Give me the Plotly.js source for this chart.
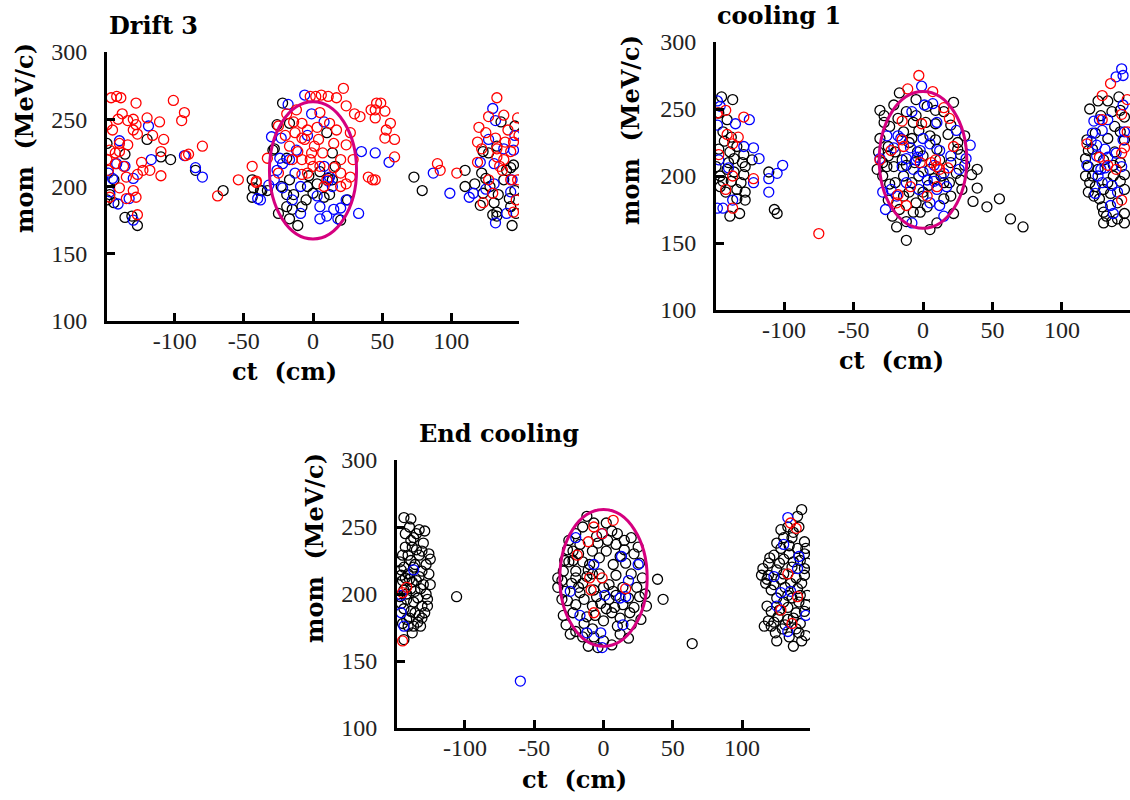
<!DOCTYPE html>
<html>
<head>
<meta charset="utf-8">
<script src="https://cdn.plot.ly/plotly-3.0.1.min.js"></script>
<style>
html,body{margin:0;padding:0;background:#fff;}
#chart{width:1130px;height:800px;}
</style>
</head>
<body>
<div id="chart"></div>
<script>
// ---------------- DATA ----------------
const panelTitles = ["Drift 3", "cooling 1", "End cooling"];
const xTickVals = [-100, -50, 0, 50, 100];
const xTickText = ["-100", "-50", "0", "50", "100"];
const yTickVals = [100, 150, 200, 250, 300];
const yTickText = ["100", "150", "200", "250", "300"];
const xTitle = "ct\u00a0\u00a0(cm)";
const yTitle = "mom\u00a0\u00a0(MeV/c)";
// reference ellipse (ct centre, mom centre, ct radius, mom radius)
const ellipseCt = 0, ellipseMom = 212, ellipseRCt = 31.5, ellipseRMom = 51;

// ---- Drift 3 ----
const d3RedCt = [
-146,-142,-139,-128,-101,-93,-95,-138,-141,-149,
-145,-134,-130,-128,-120,-111,-130,-127,-116,-108,
-140,-134,-147,-143,-140,-110,-92,-90,-80,-124,
-149,-143,-137,-118,-123,-110,-127,-135,-148,-140,
-130,-128,-135,-147,-69,-54,-127,-44,-41,-33,
22,6,2,-2,11,17,24,30,34,42,
45,46,-19,-12,-14,-8,-4,3,12,17,
27,24,4,-6,-13,-11,-8,-2,0,5,
-4,7,20,24,27,20,-41,40,45,1,
-17,-8,10,29,20,133,127,138,148,120,
141,149,119,132,139,133,143,119,133,135,
90,92,104,148,130,123,145,143,137,127,
147,49,45,52,56,53,52,59,59,43,
-25,-20,5,15,-15,8,-25,15,-8,-1,
125,145,138,122];
const d3RedMom = [
266,267,266,262,264,255,249,254,250,246,
242,249,250,246,251,248,242,239,238,235,
232,231,227,225,226,226,223,224,230,218,
220,217,215,212,212,208,209,207,212,199,
197,192,191,192,193,205,179,215,203,221,
273,268,267,267,267,266,260,254,252,257,
251,262,254,257,248,247,242,244,247,242,
240,231,235,235,240,226,220,220,215,215,
210,225,210,202,207,200,204,207,205,230,
230,209,205,220,220,266,252,253,251,244,
242,238,233,236,233,228,226,218,222,215,
217,212,210,205,195,188,181,205,212,205,
190,262,257,256,247,242,236,235,222,205,
245,238,255,232,220,200,210,214,236,225,
240,233,220,228];
const d3BlueCt = [
-119,-140,-117,-93,-85,-80,-148,-142,-136,-130,
-145,-147,-141,-133,-130,-40,-32,-6,-18,8,
-1,-30,-23,-4,35,45,-17,-22,-26,-13,
-9,12,11,14,-22,24,33,5,5,10,
15,20,-9,-24,-38,130,132,127,146,145,
121,131,87,99,113,116,144,140,132,143,
131,55,-12,3,-28,18,-15,8,138,125];
const d3BlueMom = [
245,234,220,223,214,207,210,217,215,206,
206,196,187,191,175,191,201,268,261,248,
254,237,236,238,226,225,220,217,212,210,
200,207,204,200,199,190,180,185,176,178,
183,184,180,221,190,258,249,235,238,227,
218,217,210,195,192,195,205,180,173,196,
202,218,227,193,205,176,190,215,228,198];
const d3BlackCt = [
-120,-110,-103,-85,-65,-149,-136,-144,-147,-144,
-136,-131,-127,-149,-44,-44,-37,-33,-22,-26,
-17,10,14,-19,-28,11,14,5,3,-4,
-17,-23,-19,-14,-19,-15,-17,-11,-43,-38,
12,20,-29,136,146,123,127,133,143,145,
140,110,122,110,117,128,121,123,134,142,
146,130,133,133,144,143,73,79,
-5,0,8,-25,-8,25,-3,16,138,131,125,147];
const d3BlackMom = [
235,222,220,212,197,232,224,205,194,188,
177,178,171,190,205,192,197,197,262,246,
247,240,225,221,228,206,205,211,202,200,
205,200,194,194,185,183,176,171,199,197,
194,175,227,248,245,226,225,230,214,216,
212,212,210,200,202,200,186,195,194,191,
197,179,181,178,171,185,207,197,
190,195,192,180,185,190,208,215,205,188,206,180];

// ---- cooling 1 ----
const c1RedCt = [
-148,-142,-129,-141,-133,-137,-147,-122,-137,-142,
-137,-75,-3,-11,7,19,15,-15,-1,-23,
-15,6,10,9,12,18,22,-2,-9,-18,
-19,-12,3,10,-14,-31,135,129,147,143,
129,147,118,143,127,133,139,143,145];
const c1RedMom = [
247,249,244,231,229,224,216,198,200,190,
176,157,275,265,263,243,251,241,239,219,
227,210,207,212,205,206,222,210,192,186,
180,178,185,192,222,212,269,260,257,246,
242,233,224,217,214,208,205,182,221];
const c1BlueCt = [
-148,-146,-135,-125,-148,-129,-122,-118,-101,-105,
-111,-111,-122,-147,-140,-148,-144,-137,-1,7,
1,24,34,-31,-21,-9,-2,12,5,-7,
0,15,3,10,17,-23,-19,-27,12,31,
-12,-8,143,139,144,144,123,127,133,129,
121,125,145,144,133,131,126,129,124,135,
137,139,143,-4,8,-16,
-26,-15,-5,8,-12,5,20,-18,10,-3,
26,-29,15,0,-8,125,131,118,128,136,140,122];
const c1BlueMom = [
256,252,239,242,238,222,221,213,208,202,
198,188,195,212,206,176,176,182,267,254,
253,234,223,213,221,221,219,219,224,205,
203,202,197,190,192,190,185,175,178,213,
213,165,280,274,275,253,241,242,242,234,
226,223,233,227,214,206,200,195,187,178,
172,217,207,214,196,228,
230,207,212,208,195,180,215,230,240,190,
205,188,170,228,248,215,220,208,205,193,188,232];
const c1BlackCt = [
-145,-137,-147,-141,-144,-138,-134,-139,-129,-123,
-130,-149,-141,-146,-129,-138,-146,-134,-128,-142,
-134,-128,-139,-132,-111,-107,-105,
-31,-17,-21,-12,-5,15,9,-24,-31,-14,
-3,9,18,9,-26,-21,-29,-6,-3,4,
19,27,24,39,35,39,36,46,55,63,
72,-12,-19,-7,-2,10,22,15,3,-14,
27,-14,12,-25,-10,0,5,-8,20,-20,
0,10,-28,25,-5,15,-12,5,30,
126,133,141,142,145,138,142,118,119,138,
117,119,117,120,124,137,142,145,130,135,
130,130,136,145,145,123,129,
-28,-18,3,-25,-32,-20,-8,2,20,25,
-29,-15,-4,8,-24,-10,-5,-25,-17,20,
28,5,-22,13,-33,-7,30,22,-12,0,
120,128,136,124,133,145,122,130,142,126,
137,145,122,133,127,140,119,132,140,
-143,-136,-147,-131,-144,-136,-140,-128];
const c1BlackMom = [
259,257,247,242,233,229,222,218,216,212,
210,207,205,200,201,196,192,190,188,188,
183,182,170,172,203,175,172,
249,262,253,248,257,248,249,237,228,233,
234,239,231,227,207,207,200,210,200,193,
195,197,202,205,201,191,181,177,183,168,
162,152,162,173,173,165,172,183,177,185,
216,200,212,215,225,215,205,195,210,195,
185,220,240,225,245,195,208,230,208,
256,256,259,249,244,237,233,227,219,218,
213,207,200,195,192,200,196,201,190,187,
173,165,166,172,165,185,177,
245,243,252,222,218,218,228,240,238,220,
210,212,218,198,194,188,180,182,175,185,
190,160,170,200,205,240,230,255,166,188,
250,245,248,232,228,227,220,212,210,205,
208,190,200,195,183,180,188,170,168,
226,213,220,195,196,203,210,207];

// ---- End cooling ----
const ecRedCt = [
-142,-145,-145,7,-7,-1,-11,-19,-10,-1,
-9,16,-7,135,139,133,140,128,136];
const ecRedMom = [
205,201,165,255,250,245,239,229,212,212,
203,204,186,253,249,215,198,188,178];
const ecBlueCt = [
-137,-146,-146,-144,-60,-20,-1,13,25,-7,
18,-24,1,12,16,-17,14,-12,-2,-1,
133,130,141,140,123,128,135,125,146,133];
const ecBlueMom = [
218,199,186,176,135,242,245,228,222,222,
210,202,199,197,198,184,177,171,171,160,
257,237,228,219,213,201,202,191,184,172];
const ecBlackCt = [
-144,-139,-133,-129,-139,-143,-138,-135,-145,-141,
-133,-125,-144,-137,-141,-133,-126,-145,-138,-130,
-125,-144,-136,-142,-137,-131,-127,-144,-139,-133,
-142,-137,-132,-144,-106,-141,-147,-147,-135,-140,
-130,-136,-128,-140,-134,-146,-131,-139,
-12,-7,2,-20,6,20,-17,-4,9,-26,
-22,2,15,-25,-15,-3,7,16,26,-29,
-20,-8,9,-33,-23,-15,4,24,-33,-17,
-5,4,26,-20,-8,2,14,31,-29,-12,
6,19,-27,-14,-8,12,27,-15,-11,6,
-7,39,43,64,-28,-11,14,0,-7,9,-22,
143,133,141,130,136,145,128,140,123,134,
145,119,127,137,147,114,119,130,145,117,
123,135,143,133,142,147,130,141,146,121,
127,139,123,133,142,121,129,141,146,124,
137,116,
-25,-15,-5,10,15,25,-28,-18,-8,12,
22,-30,-20,-12,-3,20,28,-26,-14,-2,
8,18,22,-22,-6,0,10,20,-20,0,
12,-4,-18,7,-10,3,-30,30,18,-24,
-143,-137,-131,-146,-139,-128,-135,-142,-132,-127,
-146,-136,-129,-140,-145,-134,-138,-143,-131,-126,
140,128,137,125,134,146,120,130,142,115,
125,136,145,118,128,139,121,131,140,125,
136,118,133,145,126,137,119,131,139,125,
143,134];
const ecBlackMom = [
257,256,248,247,240,235,235,233,229,229,
229,226,220,220,215,213,215,210,209,207,
207,203,202,196,194,191,191,189,187,184,
181,176,176,166,198,176,224,198,245,250,
238,222,200,211,197,214,182,204,
258,253,253,245,247,242,237,238,237,233,
232,232,233,224,224,227,222,223,223,217,
217,215,214,212,208,208,207,205,205,201,
198,196,198,192,191,189,192,191,184,183,
186,186,177,178,174,182,181,168,161,162,
168,211,196,163,202,218,205,205,203,199,225,
263,250,250,242,242,239,234,234,229,230,
230,223,223,224,223,214,214,215,214,208,
207,208,208,199,199,199,194,194,192,187,
188,186,179,181,178,176,174,171,169,171,
161,176,
240,250,243,245,240,235,225,230,232,228,
230,210,212,213,215,215,212,195,196,193,
190,197,190,186,184,180,176,177,172,165,
170,160,205,202,222,240,196,200,167,170,
245,242,232,218,225,222,210,200,204,196,
193,186,186,182,178,179,171,212,217,230,
258,248,246,238,236,234,227,226,225,219,
218,220,219,211,211,212,203,205,204,197,
197,191,190,187,183,182,180,177,174,165,
165,168];

// ---------------- LAYOUT HELPERS ----------------
const W = 1130, H = 800;
const RED = "rgb(255,0,0)", BLUE = "rgb(0,0,255)", BLACK = "rgb(0,0,0)";
const ELL = "#d5007f";
function dx(a, b) { return [a / W, b / W]; }
function dy(top, bottom) { return [1 - bottom / H, 1 - top / H]; }

function tr(x, y, color, ax) {
  return {
    type: "scatter", mode: "markers", x: x, y: y,
    xaxis: "x" + ax, yaxis: "y" + ax,
    marker: { symbol: "circle-open", size: 10, color: color, line: { width: 1.3, color: color } },
    cliponaxis: true, hoverinfo: "skip", showlegend: false
  };
}

const data = [
  tr(d3BlackCt, d3BlackMom, BLACK, ""),
  tr(d3BlueCt, d3BlueMom, BLUE, ""),
  tr(d3RedCt, d3RedMom, RED, ""),
  tr(c1BlackCt, c1BlackMom, BLACK, "2"),
  tr(c1BlueCt, c1BlueMom, BLUE, "2"),
  tr(c1RedCt, c1RedMom, RED, "2"),
  tr(ecBlackCt, ecBlackMom, BLACK, "3"),
  tr(ecBlueCt, ecBlueMom, BLUE, "3"),
  tr(ecRedCt, ecRedMom, RED, "3")
];

const tickFont = { family: "Liberation Serif, serif", size: 24, color: "#222" };
function xax(domain, anchor) {
  return {
    domain: domain, anchor: anchor, range: [-149, 149],
    tickmode: "array", tickvals: xTickVals, ticktext: xTickText,
    ticks: "inside", ticklen: 8, tickwidth: 3, tickcolor: "#000",
    showline: true, linewidth: 3, linecolor: "#000",
    showgrid: false, zeroline: false, tickfont: tickFont,
    ticklabelstandoff: -4, fixedrange: true
  };
}
function yax(domain, anchor) {
  return {
    domain: domain, anchor: anchor, range: [100, 300],
    tickmode: "array", tickvals: yTickVals, ticktext: yTickText,
    ticks: "inside", ticklen: 8, tickwidth: 3, tickcolor: "#000",
    showline: true, linewidth: 3, linecolor: "#000",
    showgrid: false, zeroline: false, tickfont: tickFont,
    ticklabelstandoff: 12, fixedrange: true
  };
}

const titleFont = { family: "DejaVu Serif, serif", size: 24, color: "#000", weight: "bold" };
function ann(text, px, py, xanchor, angle) {
  return {
    text: "<b>" + text + "</b>", x: px / W, y: 1 - py / H, xref: "paper", yref: "paper",
    xanchor: xanchor, yanchor: "middle", showarrow: false, textangle: angle || 0,
    font: titleFont
  };
}

function ellipse(ax) {
  return {
    type: "circle", xref: "x" + ax, yref: "y" + ax,
    x0: ellipseCt - ellipseRCt, x1: ellipseCt + ellipseRCt,
    y0: ellipseMom - ellipseRMom, y1: ellipseMom + ellipseRMom,
    line: { color: ELL, width: 3 }, layer: "above"
  };
}

const layout = {
  width: W, height: H,
  margin: { l: 0, r: 0, t: 0, b: 0 },
  paper_bgcolor: "#fff", plot_bgcolor: "#fff",
  showlegend: false,
  xaxis: xax(dx(107, 519), "y"),
  yaxis: yax(dy(52, 321), "x"),
  xaxis2: xax(dx(716, 1130), "y2"),
  yaxis2: yax(dy(42, 310), "x2"),
  xaxis3: xax(dx(397, 810), "y3"),
  yaxis3: yax(dy(460, 728), "x3"),
  shapes: [ellipse(""), ellipse("2"), ellipse("3")],
  annotations: [
    ann(panelTitles[0], 107, 25, "left"),
    ann(panelTitles[1], 715, 15, "left"),
    ann(panelTitles[2], 417, 433, "left"),
    ann(xTitle, 284, 371, "center"),
    ann(xTitle, 891, 361, "center"),
    ann(xTitle, 574, 779, "center"),
    ann(yTitle, 24, 138, "center", -90),
    ann(yTitle, 631, 130, "center", -90),
    ann(yTitle, 314, 548, "center", -90)
  ]
};

Plotly.newPlot("chart", data, layout, { displayModeBar: false, staticPlot: true });
</script>
</body>
</html>
